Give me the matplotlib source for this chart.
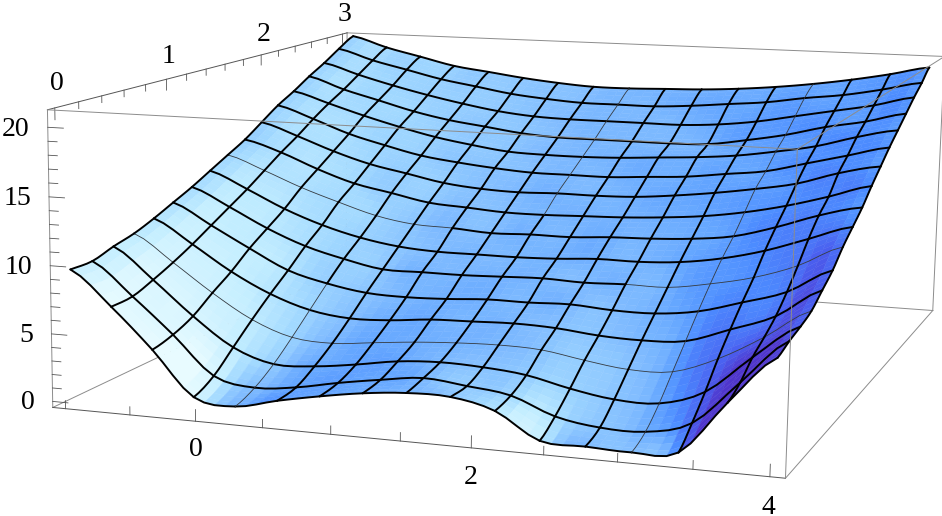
import numpy as np
import matplotlib
matplotlib.use('Agg')
import matplotlib.pyplot as plt
from matplotlib.colors import LinearSegmentedColormap

# axis ranges and ticks
x_range = (-1.1, 4.1)
y_range = (-0.06, 3.06)
z_range = (-0.45, 21.25)
x_labels = [0, 2, 4]
y_labels = [0, 1, 2, 3]
z_labels = [0, 5, 10, 15, 20]

# mesh nodes
xs = np.linspace(-1, 4, 17)
ys = np.linspace(0, 3, 17)

# heights, one row per y
z0 = [9.6, 7.1, 4.2, 1.0, 0.6, 1.3, 1.9, 2.4, 2.7, 2.7, 2.0, 0.2, 0.1, 0.0, 0.3, 4.0, 7.3]
z1 = [9.6, 7.2, 4.6, 1.8, 1.2, 1.5, 2.1, 2.6, 3.0, 2.7, 2.3, 1.1, 0.6, 0.6, 1.5, 4.6, 7.7]
z2 = [10.1, 7.8, 5.3, 3.2, 2.2, 2.3, 2.7, 3.2, 3.4, 3.3, 3.0, 2.3, 1.8, 1.8, 2.9, 5.6, 8.0]
z3 = [10.5, 8.5, 6.4, 4.6, 3.5, 3.3, 3.6, 3.9, 4.1, 4.2, 4.1, 3.6, 3.2, 3.3, 4.5, 6.3, 8.4]
z4 = [11.1, 9.3, 7.4, 5.9, 4.9, 4.5, 4.6, 4.9, 5.0, 5.1, 5.0, 4.7, 4.6, 4.8, 5.9, 7.1, 9.2]
z5 = [11.8, 10.2, 8.6, 7.1, 6.3, 5.8, 5.7, 5.8, 6.0, 6.0, 6.1, 5.9, 5.9, 6.3, 7.2, 8.2, 10.0]
z6 = [12.5, 11.1, 9.6, 8.4, 7.6, 7.0, 7.0, 7.0, 7.1, 7.2, 7.1, 7.2, 7.2, 7.7, 8.4, 9.5, 11.1]
z7 = [13.3, 12.0, 10.6, 9.5, 8.7, 8.2, 8.0, 8.0, 8.0, 8.1, 8.3, 8.3, 8.5, 9.0, 9.8, 10.9, 12.0]
z8 = [14.1, 13.0, 11.8, 10.8, 9.9, 9.4, 9.3, 9.1, 9.2, 9.2, 9.4, 9.5, 9.7, 10.1, 11.0, 12.1, 12.9]
z9 = [14.9, 14.0, 12.8, 11.8, 11.2, 10.6, 10.4, 10.2, 10.2, 10.3, 10.4, 10.6, 10.9, 11.4, 12.1, 13.0, 14.0]
z10 = [15.9, 14.9, 13.8, 12.9, 12.3, 11.7, 11.4, 11.3, 11.4, 11.4, 11.5, 11.8, 12.2, 12.7, 13.3, 14.3, 15.0]
z11 = [16.9, 15.9, 14.8, 14.0, 13.3, 12.9, 12.6, 12.4, 12.4, 12.4, 12.6, 12.8, 13.2, 13.6, 14.4, 15.2, 16.0]
z12 = [17.7, 16.8, 15.9, 15.1, 14.4, 13.9, 13.5, 13.4, 13.4, 13.5, 13.7, 13.9, 14.2, 14.7, 15.3, 16.2, 16.9]
z13 = [18.6, 17.6, 16.8, 16.0, 15.4, 15.0, 14.6, 14.4, 14.4, 14.4, 14.4, 14.5, 15.0, 15.6, 16.4, 17.0, 17.8]
z14 = [19.4, 18.5, 17.7, 17.0, 16.4, 15.9, 15.6, 15.5, 15.5, 15.5, 15.5, 15.7, 16.1, 16.7, 17.3, 17.9, 18.7]
z15 = [20.3, 19.4, 18.7, 18.0, 17.5, 17.0, 16.7, 16.5, 16.5, 16.5, 16.7, 17.0, 17.3, 17.8, 18.2, 18.8, 19.5]
z16 = [21.1, 20.2, 19.5, 18.8, 18.4, 18.0, 17.7, 17.5, 17.5, 17.6, 17.7, 17.9, 18.2, 18.6, 19.1, 19.7, 20.4]
heights = np.array([z0, z1, z2, z3, z4, z5, z6, z7, z8, z9, z10, z11, z12, z13, z14, z15, z16])

# camera, found by fitting the box corners
elev, azim, roll = 11.2695, -68.2734, -0.0273
focal = 0.4396
aspect = (1, 1.1164, 0.4055)
shift = (-0.7594, -1.4750, -2.0703)
scale, cx, cy = 6236.58, 303.83, 303.64

W, H = 942, 516
SUB = 4


def refine(a, axis):
    # catmull-rom between the nodes, only to get smooth mesh curves
    a = np.moveaxis(a, axis, 0)
    n = a.shape[0]
    t = np.arange(SUB) / SUB
    t = t.reshape((-1,) + (1,) * (a.ndim - 1))
    out = []
    for k in range(n - 1):
        p0 = a[max(k - 1, 0)]
        p1 = a[k]
        p2 = a[k + 1]
        p3 = a[min(k + 2, n - 1)]
        out.append(0.5 * (2 * p1 + (p2 - p0) * t + (2 * p0 - 5 * p1 + 4 * p2 - p3) * t ** 2
                          + (3 * p1 - p0 - 3 * p2 + p3) * t ** 3))
    out.append(a[-1:])
    return np.moveaxis(np.concatenate(out), 0, axis)


Zf = refine(refine(heights, 0), 1)
xf = np.linspace(xs[0], xs[-1], Zf.shape[1])
yf = np.linspace(ys[0], ys[-1], Zf.shape[0])
Xf, Yf = np.meshgrid(xf, yf)

# colour follows the slope along x, the light comes from +x
dzdy, dzdx = np.gradient(Zf, yf, xf)
slope = dzdx + 0.1 * (dzdy - 3)
stops = [(-10, '#e8fbff'), (-5, '#c4eeff'), (-2.5, '#a2d9ff'), (0, '#80bcff'), (1.5, '#64a6ff'),
         (3, '#4c8cff'), (6, '#4a60f0'), (10, '#4f36cc')]
cmap = LinearSegmentedColormap.from_list('light', [((v + 10) / 20, c) for v, c in stops])
faces = cmap(np.clip((slope + 10) / 20, 0, 1))

fig = plt.figure(figsize=(W / 100, H / 100), dpi=100)
size = 0.185 * scale
left = cx - 0.095 * scale
bottom = H - (cy + 0.095 * scale)
ax = fig.add_axes([left / W, bottom / H, size / W, size / H], projection='3d', computed_zorder=False)
ax.set_axis_off()
ax.patch.set_alpha(0)

x0, x1 = x_range
y0, y1 = y_range
zb, zt = z_range
GRAY = '#8c8c8c'
DARK = '#555555'


def seg(a, b, color=GRAY, lw=0.7, zo=1):
    ax.plot([a[0], b[0]], [a[1], b[1]], [a[2], b[2]], color=color, lw=lw, zorder=zo)


# box lines behind the surface
seg((x0, y0, zb), (x0, y1, zb))
seg((x0, y1, zb), (x1, y1, zb))
seg((x1, y0, zb), (x1, y1, zb))
seg((x0, y1, zt), (x1, y1, zt))
seg((x1, y1, zt), (x1, y1, zb))
seg((x0, y1, zt), (x0, y1, zb))
seg((x0, y0, zt), (x0, y1, zt), DARK)
seg((x0, y0, zb), (x0, y0, zt), GRAY)
seg((x0, y0, zb), (x1, y0, zb), DARK)

ax.plot_surface(Xf, Yf, Zf, facecolors=faces, rstride=1, cstride=1, shade=False,
                linewidth=0.3, antialiased=True, zorder=2)

# mesh, some stretches of it come out thin in the original
thin_y = {3: (0, 16), 6: (11, 16), 8: (0, 6)}
thin_x = {4: (0, 5), 8: (9, 16), 13: (0, 16)}


def mesh_line(px, py, pz, thin):
    for k in range(16):
        a, b = k * SUB, (k + 1) * SUB + 1
        is_thin = thin is not None and thin[0] <= k < thin[1]
        ax.plot(px[a:b], py[a:b], pz[a:b], color='#33393f' if is_thin else 'black',
                lw=0.6 if is_thin else 1.4, solid_capstyle='round', zorder=3)


for j in range(17):
    mesh_line(xf, np.full(xf.shape, ys[j]), Zf[j * SUB], thin_y.get(j))
for i in range(17):
    mesh_line(np.full(yf.shape, xs[i]), yf, Zf[:, i * SUB], thin_x.get(i))

# box lines over the surface
seg((x0, y0, zt), (x1, y0, zt), GRAY, 0.7, 4)
seg((x1, y0, zb), (x1, y0, zt), GRAY, 0.7, 4)
seg((x1, y0, zt), (x1, y1, zt), GRAY, 0.7, 4)

# ticks
for v in np.arange(-1, 4.01, 0.5):
    seg((v, y0, zb), (v, y0, zb + (0.85 if v in x_labels else 0.6)), DARK, 0.6, 1)
for v in np.arange(0, 3.01, 0.2):
    seg((x0, v, zt), (x0, v, zt - (0.85 if round(v, 1) in y_labels else 0.5)), DARK, 0.6, 1)
for v in np.arange(0, 21, 1):
    seg((x0, y0, v), (x0 + (0.12 if v in z_labels else 0.07), y0, v), DARK, 0.6, 1)

font = dict(family='Liberation Serif', fontsize=20, color='black', ha='center', va='center')
for v in x_labels:
    ax.text(v, y0, zb - 2.1, str(v), **font)
for v in y_labels:
    ax.text(x0 + 0.02, v, zt + 1.75, str(v), **font)
for v in z_labels:
    ax.text(x0 - 0.14, y0, v - 0.2, str(v), **{**font, 'ha': 'right'})

ax.set_xlim(x0 + shift[0], x1 + shift[0])
ax.set_ylim(y0 + shift[1], y1 + shift[1])
ax.set_zlim(zb + shift[2], zt + shift[2])
ax.set_xticks([])
ax.set_yticks([])
ax.set_zticks([])
ax.set_box_aspect(aspect)
ax.set_proj_type('persp', focal_length=focal)
ax.view_init(elev, azim, roll)

# the axes box ends short of the right side of the picture
for art in ax.lines + list(ax.collections) + ax.texts:
    art.set_clip_on(False)

fig.savefig('out.png', dpi=100)
